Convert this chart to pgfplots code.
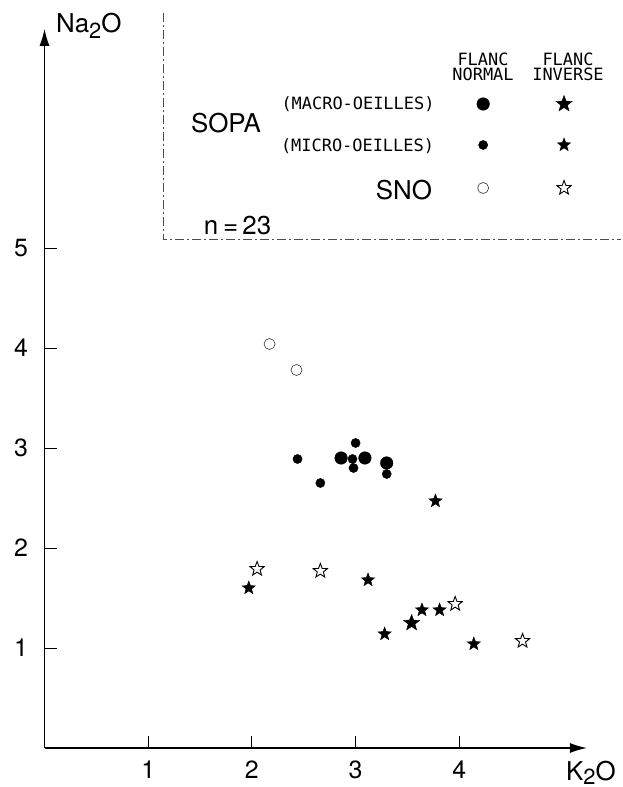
\documentclass[border=0pt]{standalone}
\usepackage{fontspec}
\setmainfont{TeX Gyre Heros}
\setmonofont{DejaVu Sans Mono}
\usepackage{pgfplots}
\pgfplotsset{compat=1.18}
\usetikzlibrary{arrows.meta}

\pgfdeclareplotmark{star5}{%
  \pgfpathmoveto{\pgfpointpolar{90}{\pgfplotmarksize}}%
  \pgfpathlineto{\pgfpointpolar{126}{0.42\pgfplotmarksize}}%
  \pgfpathlineto{\pgfpointpolar{162}{\pgfplotmarksize}}%
  \pgfpathlineto{\pgfpointpolar{198}{0.42\pgfplotmarksize}}%
  \pgfpathlineto{\pgfpointpolar{234}{\pgfplotmarksize}}%
  \pgfpathlineto{\pgfpointpolar{270}{0.42\pgfplotmarksize}}%
  \pgfpathlineto{\pgfpointpolar{306}{\pgfplotmarksize}}%
  \pgfpathlineto{\pgfpointpolar{342}{0.42\pgfplotmarksize}}%
  \pgfpathlineto{\pgfpointpolar{18}{\pgfplotmarksize}}%
  \pgfpathlineto{\pgfpointpolar{54}{0.42\pgfplotmarksize}}%
  \pgfpathclose
  \pgfusepathqfillstroke}

\newcommand{\bigtxt}{\fontsize{26}{28}\selectfont}
\newcommand{\mono}{\ttfamily\fontsize{17}{19}\selectfont}

\begin{document}
\begin{tikzpicture}
\useasboundingbox (0,0) rectangle (623bp,787bp);
\begin{axis}[
  at={(44.5bp,39bp)}, anchor=south west,
  x=103.7bp, y=100bp,
  xmin=0, xmax=5.23, ymin=0, ymax=7.19,
  axis lines=left,
  axis line style={line width=1.1bp, -{Latex[length=17bp,width=10bp]}},
  xtick={1,2,3,4}, ytick={1,2,3,4,5},
  tick align=inside,
  major tick length=12bp,
  tick style={line width=0.9bp, black},
  /pgf/number format/assume math mode=true,
  ticklabel style={font=\fontsize{25}{28}\selectfont},
  xticklabel style={yshift=-9bp},
  yticklabel style={xshift=-13bp},
  clip=false,
]
% FLANC NORMAL
\addplot[only marks, mark=*, mark size=6.3bp, fill=black] coordinates {(2.86,2.90) (3.09,2.90) (3.30,2.85) (4.23,6.44)};
\addplot[only marks, mark=*, mark size=4.6bp, fill=black] coordinates {(2.44,2.89) (2.66,2.65) (2.97,2.89) (3.00,3.05) (2.98,2.80) (3.30,2.74) (4.23,6.03)};
\addplot[only marks, mark=o, mark size=5.5bp, mark options={line width=0.6bp, draw=black!80}] coordinates {(2.17,4.04) (2.43,3.78) (4.23,5.60)};
% FLANC INVERSE
\addplot[only marks, mark=star5, mark size=8.5bp, mark options={fill=black, draw=black, line width=0.4bp}] coordinates {(3.54,1.25) (5.01,6.44)};
\addplot[only marks, mark=star5, mark size=7bp, mark options={fill=black, draw=black, line width=0.4bp}] coordinates {(3.77,2.47) (3.12,1.68) (3.64,1.38) (3.81,1.38) (1.97,1.60) (3.28,1.14) (4.14,1.04) (5.01,6.03)};
\addplot[only marks, mark=star5, mark size=7.5bp, mark options={fill=white, draw=black, line width=0.9bp}] coordinates {(2.05,1.79) (2.66,1.77) (3.96,1.44) (4.61,1.07) (5.01,5.60)};
\end{axis}
% legend frame
\draw[black!70, line width=0.8bp, dash pattern=on 9bp off 3bp on 2bp off 3bp] (163bp,774bp) -- (163bp,548bp) -- (621bp,548bp);
% legend texts
\node[anchor=base, inner sep=0] at (483bp,721bp) {\mono FLANC};
\node[anchor=base, inner sep=0] at (483bp,706bp) {\mono NORMAL};
\node[anchor=base, inner sep=0] at (568bp,721bp) {\mono FLANC};
\node[anchor=base, inner sep=0] at (568bp,706bp) {\mono INVERSE};
\node[anchor=base, inner sep=0] at (358bp,677bp) {\mono (MACRO-OEILLES)};
\node[anchor=base, inner sep=0] at (357.5bp,635bp) {\mono (MICRO-OEILLES)};
\node[anchor=base, inner sep=0] at (226bp,654bp) {\bigtxt SOPA};
\node[anchor=base, inner sep=0] at (404bp,587bp) {\bigtxt SNO};
\node[anchor=base, inner sep=0] at (237.5bp,552bp) {\bigtxt n\hspace{5bp}=\hspace{4bp}23};
% axis labels
\node[anchor=base west, inner sep=0] at (56bp,754bp) {\bigtxt Na\raisebox{-0.4ex}{\fontsize{22}{24}\selectfont 2}O};
\node[anchor=base west, inner sep=0] at (566bp,7bp) {\bigtxt K\raisebox{-0.35ex}{\fontsize{22}{24}\selectfont 2}O};
\end{tikzpicture}
\end{document}
